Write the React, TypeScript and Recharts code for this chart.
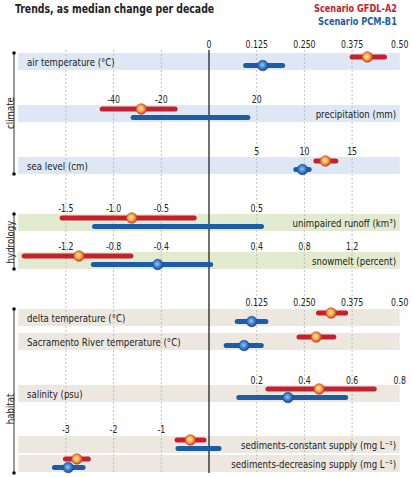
import {
  ComposedChart,
  XAxis,
  YAxis,
  Scatter,
  ReferenceArea,
  ReferenceLine,
  ReferenceDot,
} from 'recharts';

const FONT = "'Liberation Sans Narrow', 'DejaVu Sans Condensed', 'Roboto Condensed', sans-serif";
const SQUEEZE = 0.87; // the original uses a narrower condensed face

const RED = '#c6202e';
const BLUE = '#1c5da6';

// indicators, top to bottom
const indicators = [
  'air temperature (°C)',
  'precipitation (mm)',
  'sea level (cm)',
  'unimpaired runoff (km³)',
  'snowmelt (percent)',
  'delta temperature (°C)',
  'Sacramento River temperature (°C)',
  'salinity (psu)',
  'sediments-constant supply (mg L⁻¹)',
  'sediments-decreasing supply (mg L⁻¹)',
];

// size of one grid step in each indicator's own unit
const unitPerGrid = [0.125, 20, 5, 0.5, 0.4, 0.125, 0.125, 0.2, 1, 1];

// Scenario GFDL-A2
const gfdlLow = [0.375, -44.8, 11.2, -1.54, -1.55, 0.287, 0.236, 0.247, -0.67, -3.01];
const gfdlHigh = [0.46, -14.2, 13.3, -0.155, -0.655, 0.358, 0.327, 0.693, -0.105, -2.53];
const gfdlMedian = [0.415, -28.4, 12.2, -0.81, -1.09, 0.32, 0.281, 0.462, -0.39, -2.77];

// Scenario PCM-B1
const pcmLow = [0.096, -31.8, 9.1, -1.2, -0.97, 0.074, 0.045, 0.125, -0.65, -3.24];
const pcmHigh = [0.193, 16.3, 10.5, 0.55, 0.014, 0.149, 0.137, 0.573, 0.21, -2.64];
const pcmMedian = [0.141, null, 9.8, null, -0.43, 0.112, 0.092, 0.331, null, -2.95];

// tick labels of each scale row
const ticksTemp = ['0', '0.125', '0.250', '0.375', '0.50'];
const ticksPrecip = ['-40', '-20', '20'];
const ticksSea = ['5', '10', '15'];
const ticksRunoff = ['-1.5', '-1.0', '-0.5', '0.5'];
const ticksSnow = ['-1.2', '-0.8', '-0.4', '0.4', '0.8', '1.2'];
const ticksHabitatTemp = ['0.125', '0.250', '0.375', '0.50'];
const ticksSalinity = ['0.2', '0.4', '0.6', '0.8'];
const ticksSediment = ['-3', '-2', '-1'];

const groups = ['climate', 'hydrology', 'habitat'];

// ---- layout (pixels) ----
const W = 412;
const H = 477;
const ZERO_PX = 209;
const STEP_PX = 47.7;
const X_MIN = -ZERO_PX / STEP_PX;
const X_MAX = (W - ZERO_PX) / STEP_PX;
const pxToGrid = (px: number) => (px - ZERO_PX) / STEP_PX;

const bandTop = [53, 105, 157, 214, 252, 309, 333, 385, 436, 455];
const BAND_H = 17;
const RED_DY = 4;
const BLUE_DY = 12.5;
const bandColor = ['#dde8f4', '#dde8f4', '#dde8f4', '#e2ebcf', '#e2ebcf', '#ece8e0', '#ece8e0', '#ece8e0', '#ece8e0', '#ece8e0'];
const labelSide = ['left', 'right', 'left', 'right', 'right', 'left', 'left', 'left', 'right', 'right'];
const LABEL_LEFT = pxToGrid(27);
const LABEL_RIGHT = pxToGrid(396);

const tickRows = [
  { labels: ticksTemp, unit: 0.125, y: 44 },
  { labels: ticksPrecip, unit: 20, y: 99 },
  { labels: ticksSea, unit: 5, y: 151 },
  { labels: ticksRunoff, unit: 0.5, y: 208 },
  { labels: ticksSnow, unit: 0.4, y: 246 },
  { labels: ticksHabitatTemp, unit: 0.125, y: 302 },
  { labels: ticksSalinity, unit: 0.2, y: 380 },
  { labels: ticksSediment, unit: 1, y: 429 },
];

const groupSpan = [
  [53, 174],
  [214, 269],
  [309, 473],
];
const groupLabelY = [113, 242, 409];
const BRACKET_X = pxToGrid(14);
const GROUP_LABEL_X = pxToGrid(10);
const GRID_TOP = 50;
const GRID_BOTTOM = 473;
const gridSteps = [-3, -2, -1, 1, 2, 3];

const tickData = tickRows.flatMap((r) =>
  r.labels.map((l) => ({ x: Number(l) / r.unit, y: r.y, label: l }))
);
const groupData = groups.map((g, i) => ({ x: GROUP_LABEL_X, y: groupLabelY[i], label: g }));
const nameData = indicators.map((name, i) => ({
  x: labelSide[i] === 'left' ? LABEL_LEFT : LABEL_RIGHT,
  y: bandTop[i] + BAND_H / 2 + 0.5,
  label: name,
  anchor: labelSide[i] === 'left' ? 'start' : 'end',
}));

const medianPoints = (vals: (number | null)[], dy: number) =>
  vals
    .map((v, i) => (v == null ? null : { x: v / unitPerGrid[i], y: bandTop[i] + dy }))
    .filter((p) => p != null);

const gfdlPoints = medianPoints(gfdlMedian, RED_DY);
const pcmPoints = medianPoints(pcmMedian, BLUE_DY);

function TickText(props: any) {
  const { cx, cy, payload } = props;
  return (
    <text
      transform={`translate(${cx} ${cy}) scale(${SQUEEZE} 1)`}
      textAnchor="middle"
      dominantBaseline="central"
      fontSize={10}
      fontFamily={FONT}
      fill="#222"
    >
      {payload.label}
    </text>
  );
}

function NameText(props: any) {
  const { cx, cy, payload } = props;
  return (
    <text
      transform={`translate(${cx} ${cy}) scale(${SQUEEZE} 1)`}
      textAnchor={payload.anchor}
      dominantBaseline="central"
      fontSize={11}
      fontFamily={FONT}
      fill="#222"
    >
      {payload.label}
    </text>
  );
}

function GroupText(props: any) {
  const { cx, cy, payload } = props;
  return (
    <text
      transform={`translate(${cx} ${cy}) rotate(-90) scale(${SQUEEZE} 1)`}
      textAnchor="middle"
      dominantBaseline="central"
      fontSize={11}
      fontFamily={FONT}
      fill="#222"
    >
      {payload.label}
    </text>
  );
}

function Dot({ cx, cy, id, inner, mid, outer }: any) {
  return (
    <g>
      <defs>
        <radialGradient id={id} cx="45%" cy="45%" r="55%">
          <stop offset="0%" stopColor={inner} />
          <stop offset="55%" stopColor={mid} />
          <stop offset="100%" stopColor={outer} />
        </radialGradient>
      </defs>
      <circle cx={cx} cy={cy} r={5.3} fill={`url(#${id})`} stroke={outer} strokeWidth={0.6} />
    </g>
  );
}

const RedDot = (p: any) => <Dot cx={p.cx} cy={p.cy} id="gfdlDot" inner="#fff1a8" mid="#f6a443" outer="#d23a26" />;
const BlueDot = (p: any) => <Dot cx={p.cx} cy={p.cy} id="pcmDot" inner="#9cc8f2" mid="#3f7fcc" outer="#1a4c94" />;

const squeezed = (origin: string): React.CSSProperties => ({
  display: 'inline-block',
  whiteSpace: 'nowrap',
  transform: 'scaleX(0.83)',
  transformOrigin: origin,
});

const legendLine = (top: number, color: string): React.CSSProperties => ({
  position: 'absolute',
  right: 15,
  top,
  fontSize: 11,
  fontWeight: 'bold',
  lineHeight: '11px',
  color,
  whiteSpace: 'nowrap',
});

export default function App() {
  return (
    <div style={{ position: 'relative', width: W, height: H, fontFamily: FONT }}>
      <style>{'body{margin:0}'}</style>
      <div
        style={{
          position: 'absolute',
          left: 15,
          top: 1,
          fontSize: 12.5,
          fontWeight: 'bold',
          color: '#222',
          lineHeight: '15px',
        }}
      >
        <span style={squeezed('left top')}>Trends, as median change per decade</span>
      </div>
      <div style={legendLine(2.5, RED)}>
        <span style={squeezed('right top')}>Scenario GFDL-A2</span>
      </div>
      <div style={legendLine(15.5, BLUE)}>
        <span style={squeezed('right top')}>Scenario PCM-B1</span>
      </div>

      <ComposedChart width={W} height={H} margin={{ top: 0, right: 0, bottom: 0, left: 0 }}>
        <XAxis type="number" dataKey="x" domain={[X_MIN, X_MAX]} allowDataOverflow hide />
        <YAxis type="number" dataKey="y" domain={[0, H]} reversed allowDataOverflow hide />

        {indicators.map((name, i) => (
          <ReferenceArea
            key={name}
            x1={-4}
            x2={4}
            y1={bandTop[i]}
            y2={bandTop[i] + BAND_H}
            fill={bandColor[i]}
            fillOpacity={1}
            stroke="none"
          />
        ))}

        {gridSteps.map((s) => (
          <ReferenceLine
            key={s}
            segment={[
              { x: s, y: GRID_TOP },
              { x: s, y: GRID_BOTTOM },
            ]}
            stroke="#b4b4b4"
            strokeWidth={0.8}
            strokeDasharray="2 2"
          />
        ))}
        <ReferenceLine
          segment={[
            { x: 0, y: GRID_TOP },
            { x: 0, y: GRID_BOTTOM },
          ]}
          stroke="#111"
          strokeWidth={1.2}
        />

        {indicators.map((name, i) => (
          <ReferenceLine
            key={'g' + name}
            segment={[
              { x: gfdlLow[i] / unitPerGrid[i], y: bandTop[i] + RED_DY },
              { x: gfdlHigh[i] / unitPerGrid[i], y: bandTop[i] + RED_DY },
            ]}
            stroke={RED}
            strokeWidth={5}
            strokeLinecap="round"
          />
        ))}
        {indicators.map((name, i) => (
          <ReferenceLine
            key={'p' + name}
            segment={[
              { x: pcmLow[i] / unitPerGrid[i], y: bandTop[i] + BLUE_DY },
              { x: pcmHigh[i] / unitPerGrid[i], y: bandTop[i] + BLUE_DY },
            ]}
            stroke={BLUE}
            strokeWidth={5}
            strokeLinecap="round"
          />
        ))}

        {groupSpan.map(([a, b], i) => (
          <ReferenceLine
            key={'br' + i}
            segment={[
              { x: BRACKET_X, y: a },
              { x: BRACKET_X, y: b },
            ]}
            stroke="#333"
            strokeWidth={1}
          />
        ))}
        {groupSpan.flatMap(([a, b], i) => [
          <ReferenceDot key={'da' + i} x={BRACKET_X} y={a} r={1.8} fill="#111" stroke="none" />,
          <ReferenceDot key={'db' + i} x={BRACKET_X} y={b} r={1.8} fill="#111" stroke="none" />,
        ])}

        <Scatter data={nameData} shape={NameText} isAnimationActive={false} />
        <Scatter data={tickData} shape={TickText} isAnimationActive={false} />
        <Scatter data={groupData} shape={GroupText} isAnimationActive={false} />
        <Scatter data={pcmPoints} shape={BlueDot} isAnimationActive={false} />
        <Scatter data={gfdlPoints} shape={RedDot} isAnimationActive={false} />
      </ComposedChart>
    </div>
  );
}
